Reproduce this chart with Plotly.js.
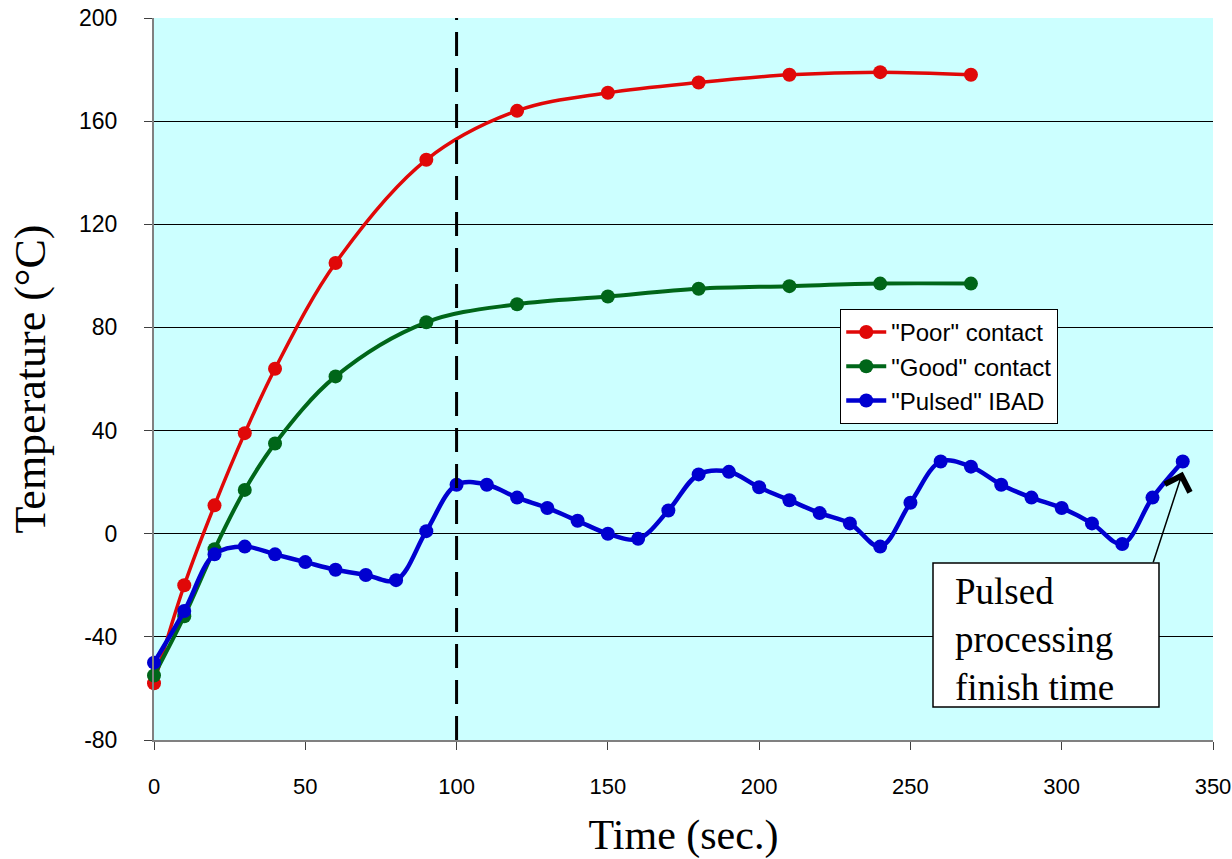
<!DOCTYPE html>
<html>
<head>
<meta charset="utf-8">
<script src="https://cdn.plot.ly/plotly-3.0.1.min.js"></script>
<style>
  html, body { margin: 0; padding: 0; background: #ffffff; }
  #chart { width: 1232px; height: 859px; }
</style>
</head>
<body>
<div id="chart"></div>
<script>
// ---- Data ----
const contactTime = [0, 10, 20, 30, 40, 60, 90, 120, 150, 180, 210, 240, 270];
const poorContact = [-58, -20, 11, 39, 64, 105, 145, 164, 171, 175, 178, 179, 178];
const goodContact = [-55, -32, -6, 17, 35, 61, 82, 89, 92, 95, 96, 97, 97];

const pulsedTime = [0, 10, 20, 30, 40, 50, 60, 70, 80, 90, 100, 110, 120, 130, 140, 150, 160, 170,
                    180, 190, 200, 210, 220, 230, 240, 250, 260, 270, 280, 290, 300, 310, 320, 330, 340];
const pulsedIBAD = [-50, -30, -8, -5, -8, -11, -14, -16, -18, 1, 19, 19, 14, 10, 5, 0, -2, 9,
                    23, 24, 18, 13, 8, 4, -5, 12, 28, 26, 19, 14, 10, 4, -4, 14, 28];

const seriesNames = ['"Poor" contact', '"Good" contact', '"Pulsed" IBAD'];
const xTickValues = [0, 50, 100, 150, 200, 250, 300, 350];
const yTickValues = [-80, -40, 0, 40, 80, 120, 160, 200];

const dashedLineTime = 100;               // vertical dashed reference line
const finishTime = 340, finishTemp = 24;  // arrow target (end of pulsed processing)
const noteText = 'Pulsed<br>processing<br>finish time';

// ---- Styling ----
const serif = '"Liberation Serif", "Times New Roman", serif';
const sans = '"Liberation Sans", Arial, sans-serif';
const colors = ['#E00808', '#006619', '#0000D0'];

function mkTrace(x, y, name, color, width) {
  return {
    x: x, y: y, name: name, type: 'scatter', mode: 'lines+markers',
    line: { color: color, width: width, shape: 'spline', smoothing: 1 },
    marker: { color: color, size: 14 },
    cliponaxis: false
  };
}

const traces = [
  mkTrace(contactTime, poorContact, seriesNames[0], colors[0], 3.5),
  mkTrace(contactTime, goodContact, seriesNames[1], colors[1], 4),
  mkTrace(pulsedTime, pulsedIBAD, seriesNames[2], colors[2], 4.5)
];

// note box position in paper coords
const boxX0 = 0.7356, boxX1 = 0.949, boxY0 = 0.0457, boxY1 = 0.2452;

const annotations = [
  {
    x: finishTime, y: finishTemp, xref: 'x', yref: 'y',
    ax: -30, ay: 92, showarrow: true, arrowhead: 4, arrowsize: 3.4,
    arrowwidth: 1.5, arrowcolor: '#000000', standoff: 0, text: ''
  },
  {
    x: 0.7545, y: (boxY0 + boxY1) / 2 - 0.006, xref: 'paper', yref: 'paper',
    xanchor: 'left', yanchor: 'middle', align: 'left', showarrow: false, text: noteText,
    font: { family: serif, size: 37, color: '#000000' }
  }
];

const layout = {
  width: 1232, height: 859,
  margin: { l: 154, r: 19, t: 18, b: 119 },
  paper_bgcolor: '#ffffff',
  plot_bgcolor: '#CCFFFF',
  showlegend: true,
  legend: {
    x: 0.648, y: 0.597, xanchor: 'left', yanchor: 'top',
    bgcolor: '#ffffff', bordercolor: '#000000', borderwidth: 1,
    font: { family: sans, size: 24, color: '#000000' },
    itemwidth: 40
  },
  xaxis: {
    range: [0, 350], tickvals: xTickValues, ticktext: xTickValues.map(String),
    showgrid: false, zeroline: false,
    showline: true, linecolor: '#808080', linewidth: 2,
    ticks: 'outside', ticklen: 8, tickcolor: '#404040', tickwidth: 1,
    tickfont: { family: sans, size: 22, color: '#000000' },
    ticklabelstandoff: 18,
    title: { text: 'Time (sec.)', font: { family: serif, size: 42, color: '#000000' }, standoff: 22 },
    fixedrange: true
  },
  yaxis: {
    range: [-80, 200], tickvals: yTickValues, ticktext: yTickValues.map(String),
    showgrid: true, gridcolor: '#000000', gridwidth: 1,
    zeroline: false,
    showline: true, linecolor: '#808080', linewidth: 2,
    ticks: 'outside', ticklen: 8, tickcolor: '#404040', tickwidth: 1,
    tickfont: { family: sans, size: 23, color: '#000000' },
    ticklabelstandoff: 22,
    title: { text: 'Temperature (°C)', font: { family: serif, size: 44, color: '#000000' }, standoff: 20 },
    fixedrange: true
  },
  shapes: [
    {
      type: 'line', xref: 'x', yref: 'paper', x0: dashedLineTime, x1: dashedLineTime, y0: 0, y1: 1,
      line: { color: '#000000', width: 3, dash: '24px,12px' }
    },
    {
      type: 'rect', xref: 'paper', yref: 'paper', x0: boxX0, x1: boxX1, y0: boxY0, y1: boxY1,
      fillcolor: '#ffffff', line: { color: '#000000', width: 1.5 }, layer: 'above'
    }
  ],
  annotations: annotations
};

Plotly.newPlot('chart', traces, layout, { displayModeBar: false, staticPlot: true });
</script>
</body>
</html>
